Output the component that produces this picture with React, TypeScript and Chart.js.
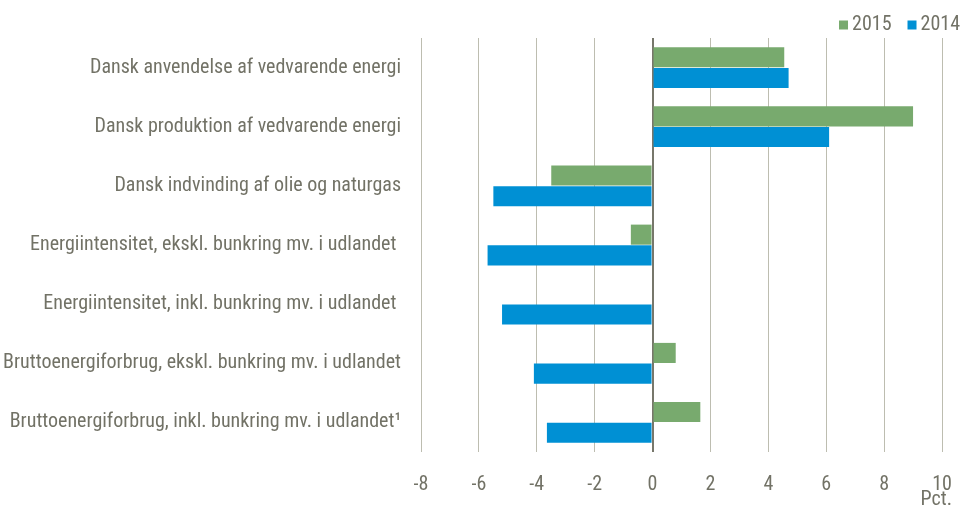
import React, { useEffect, useRef } from "react";
import { Chart, registerables } from "chart.js";

Chart.register(...registerables);

const categories = [
  "Dansk anvendelse af vedvarende energi",
  "Dansk produktion af vedvarende energi",
  "Dansk indvinding af olie og naturgas",
  "Energiintensitet, ekskl. bunkring mv. i udlandet ",
  "Energiintensitet, inkl. bunkring mv. i udlandet ",
  "Bruttoenergiforbrug, ekskl. bunkring mv. i udlandet",
  "Bruttoenergiforbrug, inkl. bunkring mv. i udlandet\u00B9",
];
const values2015 = [4.55, 9.0, -3.5, -0.75, 0, 0.8, 1.65];
const values2014 = [4.7, 6.1, -5.5, -5.7, -5.2, -4.1, -3.65];
const xTicks = [-8, -6, -4, -2, 0, 2, 4, 6, 8, 10];
const unitLabel = "Pct.";

const FONT = "'Liberation Sans Narrow', 'Arial Narrow', 'Roboto Condensed', sans-serif";
const TEXT = "#727266";
const SIZE = 20;
const COLORS = ["#78aa6e", "#0090d4"];

const customLegend = {
  id: "customLegend",
  afterDraw(chart: any) {
    const ctx = chart.ctx;
    ctx.save();
    ctx.font = `${SIZE}px ${FONT}`;
    ctx.textBaseline = "middle";
    ctx.textAlign = "left";
    ctx.fillStyle = TEXT;
    const y = 25;
    const box = 9;
    const gapBoxText = 4;
    const gapItems = 16;
    let x = chart.width - 4;
    const items = chart.data.datasets.map((d: any) => ({ label: d.label, color: d.backgroundColor }));
    for (let i = items.length - 1; i >= 0; i--) {
      const w = ctx.measureText(items[i].label).width;
      const textX = x - w;
      ctx.fillStyle = TEXT;
      ctx.fillText(items[i].label, textX, y);
      ctx.fillStyle = items[i].color;
      ctx.fillRect(textX - gapBoxText - box, y - box / 2, box, box);
      x = textX - gapBoxText - box - gapItems;
    }
    ctx.fillStyle = TEXT;
    ctx.textAlign = "right";
    ctx.fillText(unitLabel, chart.chartArea.right + 10, 500);
    ctx.restore();
  },
};

export default function App() {
  const ref = useRef<HTMLCanvasElement>(null);
  useEffect(() => {
    document.body.style.margin = "0";
    const chart = new Chart(ref.current!, {
      type: "bar",
      data: {
        labels: categories,
        datasets: [
          { label: "2015", data: values2015, backgroundColor: COLORS[0], categoryPercentage: 0.7, barPercentage: 0.97 },
          { label: "2014", data: values2014, backgroundColor: COLORS[1], categoryPercentage: 0.7, barPercentage: 0.97 },
        ],
      },
      plugins: [customLegend],
      options: {
        indexAxis: "y",
        animation: false,
        responsive: false,
        maintainAspectRatio: false,
        layout: { padding: { top: 38, left: 0, right: 22, bottom: 0 } },
        plugins: {
          tooltip: { enabled: false },
          legend: { display: false },
        },
        scales: {
          x: {
            type: "linear",
            min: -8,
            max: 10,
            afterBuildTicks: (s: any) => {
              s.ticks = xTicks.map((v) => ({ value: v }));
            },
            afterFit: (s: any) => {
              s.height = 59;
              s.paddingLeft = 0;
              s.paddingRight = 0;
            },
            border: { display: false },
            grid: {
              drawTicks: false,
              color: (c: any) => (c.tick && c.tick.value === 0 ? "#77776b" : "#bdbdb0"),
              lineWidth: (c: any) => (c.tick && c.tick.value === 0 ? 2 : 1),
            },
            ticks: {
              padding: 21,
              color: TEXT,
              font: { family: FONT, size: SIZE },
            },
          },
          y: {
            type: "category",
            afterFit: (s: any) => {
              s.width = 421;
            },
            border: { display: false },
            grid: { display: false },
            ticks: {
              padding: 12,
              color: TEXT,
              font: { family: FONT, size: SIZE },
            },
          },
        },
      },
    });
    return () => chart.destroy();
  }, []);
  return <canvas ref={ref} width={964} height={511} style={{ display: "block" }} />;
}
